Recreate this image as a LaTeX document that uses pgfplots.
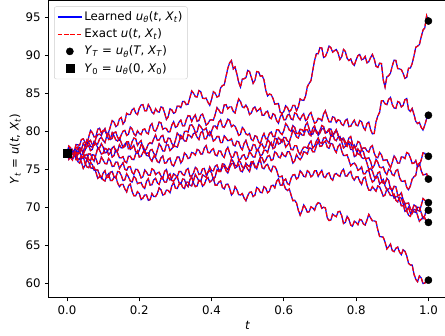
\documentclass[border=0pt]{standalone}
\usepackage{fontspec}
\setmainfont{DejaVu Sans}
\usepackage{pgfplots}
\usepackage{pgfplotstable}
\pgfplotsset{compat=1.18}

% Sample paths Y_t = u(t, X_t) on t in [0,1]
\pgfplotstableread{
t     A     B     C     D     E     F     G     H
0.000 77.1  77.1  77.1  77.1  77.1  77.1  77.1  77.1
0.005 77.8  76.65 78.05 76.3  77.05 76.9  77.2  76.65
0.010 77.5  76.8  77.8  76.7  76.6  77.5  76.5  76.6
0.015 76.95 77.5  77.35 77.55 76.4  77.5  76.2  77.3
0.020 77.2  77.4  77.3  77.2  77.0  76.9  76.9  77.0
0.025 77.85 77.15 78.25 76.75 77.2  76.5  76.65 76.25
0.030 77.9  77.9  78.2  76.9  76.2  77.3  76.0  76.3
0.035 77.15 77.9  78.15 77.65 76.3  77.55 75.8  76.4
0.040 77.6  77.5  78.9  77.6  76.8  76.6  76.4  75.9
0.045 78.4  77.35 79.0  77.05 77.15 76.4  76.7  75.1
0.050 78.0  78.0  78.5  77.5  76.5  76.8  75.8  75.5
0.055 78.0  78.85 78.25 78.0  76.35 76.95 75.3  76.3
0.060 78.6  78.5  79.2  78.1  77.0  76.3  75.2  75.9
0.065 78.8  78.0  80.1  77.45 77.0  76.1  75.9  75.2
0.070 78.2  77.9  79.8  77.6  76.4  76.9  75.6  75.1
0.075 78.15 78.65 79.25 78.55 76.05 76.85 74.85 75.25
0.080 79.1  78.4  79.3  78.3  76.9  76.4  74.9  74.6
0.085 79.55 78.3  80.25 77.85 77.8  75.7  74.9  73.8
0.090 79.6  79.0  80.4  77.8  77.5  75.8  74.3  74.0
0.095 79.4  79.2  79.75 78.35 77.0  76.6  73.8  74.0
0.100 80.0  78.8  80.1  77.9  77.1  76.2  74.5  73.6
0.105 80.35 78.5  80.05 77.15 77.75 75.75 74.8  73.45
0.110 79.5  79.4  79.6  77.2  77.6  75.7  73.9  74.1
0.115 79.85 79.75 78.9  77.7  76.9  76.4  73.95 74.4
0.120 80.6  78.9  79.0  77.6  77.2  76.1  74.6  73.5
0.125 81.4  79.05 79.8  76.6  77.8  75.35 74.7  73.5
0.130 81.2  79.8  79.4  76.8  78.0  75.4  74.0  73.9
0.135 80.6  79.9  78.85 77.55 77.3  75.95 73.85 74.05
0.140 80.8  79.2  78.7  77.1  77.4  75.9  74.7  73.2
0.145 81.6  78.85 79.1  76.5  78.2  75.1  74.65 72.7
0.150 81.8  79.5  78.5  76.5  77.8  75.5  74.2  73.0
0.155 80.95 80.0  77.85 76.65 77.85 75.85 73.5  73.0
0.160 81.3  80.1  78.0  76.0  78.3  75.0  73.6  72.4
0.165 82.35 79.45 78.6  75.85 78.5  74.85 74.4  72.0
0.170 82.2  79.6  78.6  76.7  77.7  75.3  74.0  72.8
0.175 82.2  80.55 77.6  76.7  77.75 75.35 73.45 73.05
0.180 82.8  80.3  77.8  76.3  78.6  74.6  73.3  72.1
0.185 83.0  79.65 78.15 76.25 79.1  74.3  74.05 71.5
0.190 82.4  79.4  77.3  77.0  79.0  75.0  73.8  71.5
0.195 82.2  80.05 77.1  77.4  78.15 74.95 73.1  72.05
0.200 83.0  79.7  77.5  76.6  78.5  74.5  73.2  71.8
0.205 83.45 79.55 78.2  76.7  78.75 73.85 73.25 71.0
0.210 83.5  80.2  78.1  77.2  77.8  74.0  72.7  71.2
0.215 82.7  80.3  77.4  77.5  77.15 74.9  72.45 71.6
0.220 82.7  79.8  77.7  76.8  77.1  74.6  73.4  71.6
0.225 83.5  79.65 78.3  76.75 77.15 74.2  73.75 70.9
0.230 83.1  80.7  78.5  77.5  76.4  74.2  72.9  71.0
0.235 82.5  81.0  78.35 77.6  76.05 75.05 72.95 71.8
0.240 82.3  80.1  79.0  77.1  76.7  74.9  73.6  71.4
0.245 82.95 80.0  79.5  76.7  76.55 74.3  73.8  71.4
0.250 82.6  80.5  78.8  77.5  76.0  74.5  73.2  71.8
0.255 82.5  81.2  78.85 78.35 75.85 74.6  73.0  72.55
0.260 83.2  81.1  79.3  78.0  76.5  74.1  73.8  72.3
0.265 83.1  80.25 79.45 77.4  76.75 73.8  73.75 71.6
0.270 82.4  80.4  78.6  77.4  75.8  74.7  73.3  71.7
0.275 81.55 80.35 78.45 78.2  75.85 74.95 73.3  72.25
0.280 81.9  79.9  79.1  78.2  76.3  74.0  74.1  72.2
0.285 82.95 79.95 79.05 77.45 76.45 73.6  74.4  71.9
0.290 82.8  80.8  78.4  77.7  75.6  73.8  73.5  72.8
0.295 82.35 81.25 78.0  78.05 75.4  74.4  73.45 73.25
0.300 82.5  80.5  78.8  78.0  76.0  74.2  73.8  72.5
0.305 83.3  80.65 79.75 77.9  76.6  73.95 74.0  72.45
0.310 83.3  81.2  79.5  78.6  76.6  74.7  73.2  73.0
0.315 83.1  81.45 79.0  79.45 75.8  74.7  73.05 73.2
0.320 83.9  80.7  79.1  79.1  76.2  74.3  73.7  72.6
0.325 83.9  80.7  79.95 78.7  77.15 74.2  73.65 72.45
0.330 83.5  81.5  80.0  78.7  76.9  74.9  73.0  73.3
0.335 83.55 82.05 79.9  79.55 76.4  75.1  72.7  73.3
0.340 84.4  82.0  80.8  79.4  76.5  74.1  73.6  72.9
0.345 85.3  81.3  80.85 79.15 77.2  74.1  74.0  72.8
0.350 85.0  81.8  80.5  79.7  77.1  74.5  73.2  73.5
0.355 84.55 82.15 79.8  79.75 76.85 75.25 72.7  74.3
0.360 84.5  81.3  79.9  79.2  77.6  75.0  72.8  73.9
0.365 85.35 81.4  80.85 78.9  77.5  74.3  73.55 73.45
0.370 85.2  82.1  80.6  79.8  77.0  74.4  73.5  73.4
0.375 84.35 82.25 80.2  80.0  77.0  75.05 72.75 74.25
0.380 84.3  81.6  80.2  79.0  77.8  75.1  73.0  74.1
0.385 84.35 80.8  80.4  79.0  78.1  74.25 73.65 73.95
0.390 83.8  81.0  79.6  79.6  77.2  74.6  73.9  74.6
0.395 83.4  81.45 79.4  79.95 77.15 75.3  73.3  74.85
0.400 84.2  81.5  80.0  79.5  77.5  74.8  73.5  74.5
0.405 85.2  81.45 80.65 78.7  77.7  74.8  73.8  73.65
0.410 85.0  82.2  80.7  78.9  76.9  75.4  72.9  74.0
0.415 84.5  83.1  80.35 79.3  76.75 75.55 72.9  74.95
0.420 84.6  82.8  81.2  79.3  77.4  74.9  73.3  74.7
0.425 85.7  82.4  81.5  78.5  77.4  74.8  73.45 74.7
0.430 86.0  82.4  80.6  78.5  76.8  75.7  72.6  75.3
0.435 86.1  83.45 80.5  79.4  76.55 75.65 72.4  75.45
0.440 87.2  83.5  81.0  79.1  77.5  75.2  73.0  74.8
0.445 88.3  82.95 81.6  78.75 77.9  74.95 73.05 74.5
0.450 89.0  83.2  81.4  78.8  77.1  75.5  72.5  75.2
0.455 89.3  83.2  80.6  79.0  76.55 76.35 71.6  75.7
0.460 88.2  82.6  80.8  78.2  76.6  76.0  71.9  75.8
0.465 88.45 82.4  80.65 78.05 77.3  75.5  72.7  75.15
0.470 87.5  83.4  80.1  78.7  77.2  75.4  72.3  75.3
0.475 86.45 84.25 79.45 78.6  76.25 75.6  71.65 76.2
0.480 85.8  83.9  79.6  77.9  76.3  74.8  71.6  75.9
0.485 86.85 83.2  80.5  77.55 76.8  74.65 71.8  75.3
0.490 86.9  83.1  80.2  78.4  76.9  75.3  71.2  75.1
0.495 87.05 83.45 79.65 78.8  76.3  75.45 70.85 75.8
0.500 88.0  83.0  79.5  78.0  76.5  75.0  71.5  75.5
0.505 87.85 82.2  79.7  77.45 77.35 74.7  71.95 75.35
0.510 87.1  82.4  78.9  77.5  77.0  75.6  72.0  76.0
0.515 86.3  83.0  78.75 78.25 76.6  76.0  71.4  76.0
0.520 86.7  83.2  79.4  78.2  76.6  75.2  71.6  75.4
0.525 87.85 82.6  79.3  77.45 77.5  75.25 72.6  75.05
0.530 87.8  82.8  78.6  77.7  77.4  75.9  72.4  75.9
0.535 87.25 83.05 78.3  78.2  76.75 76.6  71.95 76.15
0.540 87.3  82.1  79.2  78.3  76.9  76.5  71.9  75.2
0.545 86.75 82.1  79.7  77.75 77.5  75.85 72.7  75.05
0.550 85.4  82.5  79.0  78.0  77.5  76.2  72.5  75.5
0.555 84.65 82.65 79.05 78.9  77.2  76.7  71.9  75.65
0.560 84.9  81.8  79.7  78.6  78.1  76.8  72.1  75.0
0.565 84.8  81.65 79.9  78.15 78.5  76.15 72.8  74.7
0.570 84.3  82.3  79.3  78.1  77.7  76.3  72.9  75.4
0.575 83.55 82.15 79.25 79.05 77.85 77.3  72.55 75.35
0.580 83.6  81.4  80.2  79.0  78.6  77.1  73.4  74.9
0.585 83.65 81.05 80.2  78.3  79.15 76.6  73.75 74.05
0.590 82.5  81.9  79.8  78.4  78.9  76.5  72.9  74.0
0.595 82.35 82.3  79.55 78.9  78.55 77.15 72.9  74.1
0.600 82.6  81.5  80.1  78.8  79.2  76.8  73.5  73.0
0.605 83.35 81.5  81.0  77.9  79.15 76.65 73.7  72.4
0.610 83.1  82.1  80.7  78.2  78.7  77.3  73.1  72.2
0.615 82.55 82.25 80.15 78.5  78.6  77.3  72.95 72.4
0.620 82.8  81.6  80.0  77.6  79.3  76.7  73.8  71.6
0.625 83.4  81.5  80.75 77.55 80.15 75.8  74.25 70.85
0.630 83.4  82.4  80.5  78.1  79.8  76.1  74.3  70.9
0.635 82.7  82.3  79.7  78.1  79.25 76.9  73.7  70.55
0.640 83.2  81.8  79.7  77.3  79.1  76.5  73.9  69.6
0.645 84.25 81.5  80.25 76.9  79.8  76.25 74.8  68.95
0.650 84.1  82.0  80.2  77.5  79.5  76.6  74.5  69.5
0.655 84.05 82.3  79.9  77.9  79.45 77.3  74.05 70.3
0.660 84.6  81.4  80.8  77.9  80.2  77.2  74.0  69.9
0.665 85.85 81.6  81.15 77.75 80.2  77.0  74.8  69.35
0.670 86.3  82.2  80.3  78.4  79.6  77.8  74.6  69.4
0.675 86.65 82.45 79.65 78.7  79.4  77.75 74.0  70.05
0.680 88.0  81.7  79.6  77.8  80.4  77.3  74.2  69.9
0.685 89.3  81.05 80.25 78.05 80.7  77.3  74.8  69.6
0.690 90.2  81.2  80.1  78.7  79.8  78.1  74.8  70.3
0.695 90.2  81.7  79.45 79.1  79.65 78.65 74.05 70.6
0.700 91.0  81.6  79.8  78.5  80.1  78.0  74.5  70.5
0.705 90.95 81.35 80.3  78.4  80.75 78.05 74.85 69.85
0.710 89.7  82.3  80.4  79.1  80.6  78.5  74.0  70.0
0.715 89.85 82.7  79.75 79.2  79.75 78.7  73.9  69.9
0.720 90.4  81.9  79.9  78.7  79.9  77.9  74.4  68.6
0.725 91.2  81.25 80.2  78.45 80.3  77.75 74.5  68.25
0.730 91.0  81.2  79.3  79.4  80.3  78.4  73.8  68.3
0.735 90.4  81.9  79.35 79.75 79.6  78.3  73.55 69.1
0.740 90.6  81.8  79.8  78.9  79.7  77.6  74.3  68.9
0.745 90.75 81.15 80.15 78.75 80.2  77.2  74.45 68.75
0.750 90.3  81.5  79.5  79.2  79.5  78.0  74.2  69.4
0.755 89.45 81.4  78.85 79.3  78.95 78.3  74.05 69.45
0.760 89.8  80.9  79.0  78.6  78.8  77.4  74.7  68.9
0.765 90.75 80.75 79.1  77.8  79.0  76.8  75.0  67.85
0.770 90.5  81.4  78.6  78.0  78.2  76.8  74.1  68.0
0.775 89.6  81.6  78.25 78.4  78.0  76.9  74.1  68.8
0.780 89.3  80.6  79.1  78.4  78.6  76.2  74.5  68.4
0.785 89.5  80.65 79.3  77.6  78.45 75.45 74.7  67.65
0.790 88.9  81.1  78.3  77.6  77.7  75.7  73.9  67.5
0.795 88.65 81.45 77.85 78.15 76.65 75.8  73.55 68.15
0.800 89.4  80.8  78.0  77.5  76.8  75.5  74.0  68.0
0.805 89.95 80.7  78.65 77.0  77.65 74.85 74.0  67.7
0.810 90.1  81.4  78.5  76.9  77.3  75.0  73.4  68.4
0.815 89.4  81.25 77.65 77.6  76.55 75.3  73.0  68.3
0.820 89.5  80.5  77.8  77.3  76.4  74.4  73.8  67.8
0.825 89.85 80.15 77.8  76.45 76.5  74.4  73.95 67.65
0.830 89.0  81.0  77.4  76.4  75.8  74.8  72.9  68.3
0.835 89.15 81.2  77.25 76.5  74.95 74.85 72.25 69.05
0.840 89.7  80.2  77.9  76.0  75.1  73.9  72.2  68.6
0.845 90.1  79.65 78.1  75.15 74.75 73.3  72.7  68.2
0.850 89.5  79.7  77.1  75.5  74.0  73.5  72.4  68.2
0.855 88.55 81.25 76.6  76.3  73.85 74.05 72.1  68.1
0.860 88.4  82.0  76.5  75.9  74.5  74.0  72.8  67.0
0.865 88.95 82.5  77.2  75.25 74.65 73.05 72.65 66.15
0.870 88.9  84.0  76.9  75.2  73.6  73.3  72.1  66.1
0.875 86.75 84.0  76.15 75.3  73.15 73.65 71.45 66.05
0.880 85.8  83.6  76.2  74.6  73.1  72.8  71.6  65.4
0.885 87.15 83.5  76.25 74.3  73.8  72.3  72.4  64.5
0.890 87.3  84.2  75.7  75.0  73.5  72.4  72.0  64.8
0.895 87.65 84.45 75.2  74.85 72.45 72.6  71.55 65.15
0.900 88.6  83.5  75.9  74.3  72.2  72.0  71.5  64.3
0.905 89.35 83.05 76.75 74.15 72.75 71.2  71.7  64.15
0.910 89.3  83.0  76.4  74.8  72.7  71.4  70.9  64.6
0.915 88.25 83.9  75.8  74.95 71.55 71.4  70.7  64.75
0.920 88.2  83.8  75.8  73.9  71.6  71.0  71.3  64.1
0.925 88.1  83.2  76.6  73.45 71.9  70.2  71.2  63.75
0.930 87.6  83.4  76.6  73.4  71.0  70.2  70.5  64.4
0.935 86.95 84.15 76.4  73.5  70.45 70.45 69.45 64.2
0.940 87.1  84.3  77.2  72.6  70.5  69.5  69.6  63.6
0.945 88.3  82.85 77.05 72.3  70.55 68.95 70.0  62.6
0.950 88.3  82.6  76.5  72.8  69.8  68.8  69.2  62.4
0.955 88.9  83.0  75.75 73.7  69.55 69.6  69.15 62.4
0.960 89.9  82.2  75.8  74.0  70.3  69.4  69.7  61.2
0.965 91.05 81.3  76.15 74.2  70.15 69.3  69.7  60.5
0.970 91.2  81.0  75.3  75.6  69.6  70.0  68.9  60.2
0.975 91.4  81.15 75.55 75.8  69.5  69.95 68.15 60.95
0.980 92.4  80.5  76.2  74.8  70.2  69.3  68.4  60.7
0.985 93.3  80.15 77.15 74.25 71.15 68.5  68.7  59.95
0.990 93.6  80.8  77.1  74.3  70.9  68.9  68.6  60.0
0.995 95.2  81.65 76.5  74.4  70.55 69.85 67.9  60.5
1.000 94.5  82.1  76.7  73.7  70.6  69.6  68.0  60.4
}\paths

\tikzset{
  learned/.style={color=blue, line width=1.2pt},
  exact/.style={color=red, line width=1.2pt, dash pattern=on 4.4pt off 1.9pt},
}

\begin{document}
\fontsize{11.8}{14}\selectfont
\begin{tikzpicture}
% frame of the figure: labels on the left and below, axis at the origin
\useasboundingbox (-49pt,-38pt) rectangle (396.5pt,297.5pt);
\begin{axis}[
  at={(0,0)}, anchor=south west,
  scale only axis,
  width=398pt, height=297pt,
  xmin=-0.05, xmax=1.05,
  ymin=58.16, ymax=97.2,
  xtick={0,0.2,0.4,0.6,0.8,1},
  ytick={60,65,70,75,80,85,90,95},
  xticklabel style={/pgf/number format/.cd, fixed, fixed zerofill, precision=1},
  /pgf/number format/assume math mode=true,
  tick align=outside,
  xtick pos=bottom, ytick pos=left,
  major tick length=4.1pt,
  tick style={black, line width=0.95pt},
  axis line style={black, line width=0.95pt},
  xlabel={\textit{t}},
  ylabel={\textit{Y}\textsubscript{\textit{t}} = \textit{u}(\textit{t}, \textit{X}\textsubscript{\textit{t}})},
  every axis x label/.style={at={(axis description cs:0.5,0)}, yshift=-28pt, anchor=center},
  every axis y label/.style={at={(axis description cs:-0.085,0.5)}, rotate=90, anchor=center},
  legend image code/.code={\draw[mark repeat=2, mark phase=2, #1]
    plot coordinates {(0cm,0cm) (0.42cm,0cm) (0.84cm,0cm)};},
  legend style={at={(0.013,0.98)}, anchor=north west, draw=black!20,
    rounded corners=2pt, inner sep=3pt, row sep=2.5pt},
  legend cell align=left,
]
\addlegendimage{learned}
\addlegendentry{Learned \textit{u}\textsubscript{\textit{θ}}(\textit{t}, \textit{X}\textsubscript{\textit{t}})}
\addlegendimage{exact}
\addlegendentry{Exact \textit{u}(\textit{t}, \textit{X}\textsubscript{\textit{t}})}
\addlegendimage{only marks, mark=*, black, mark size=3.6pt}
\addlegendentry{\textit{Y}\textsubscript{\textit{T}} = \textit{u}\textsubscript{\textit{θ}}(\textit{T}, \textit{X}\textsubscript{\textit{T}})}
\addlegendimage{only marks, mark=square*, black, mark size=4pt}
\addlegendentry{\textit{Y}\textsubscript{0} = \textit{u}\textsubscript{\textit{θ}}(0, \textit{X}\textsubscript{0})}

\pgfplotsinvokeforeach{A,B,C,D,E,F,G,H}{
  \addplot[learned, forget plot] table[x=t, y=#1] {\paths};
  \addplot[exact, forget plot] table[x=t, y=#1] {\paths};
}

% terminal values
\addplot[only marks, mark=*, black, mark size=3.6pt, forget plot] coordinates {
  (1,94.5) (1,82.1) (1,76.7) (1,73.7) (1,70.6) (1,69.6) (1,68.0) (1,60.4)
};
% initial value
\addplot[only marks, mark=square*, black, mark size=4pt, forget plot] coordinates {
  (0,77.1)
};
\end{axis}
\end{tikzpicture}
\end{document}
